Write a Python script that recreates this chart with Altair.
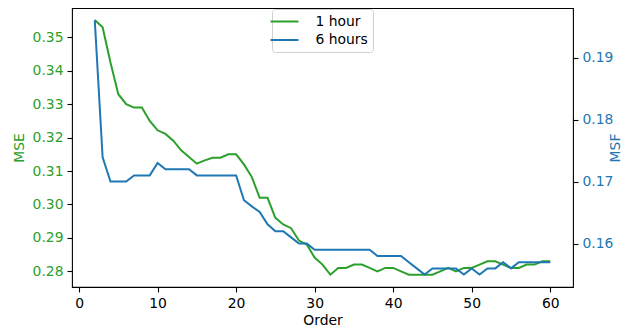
import altair as alt
import pandas as pd

order = list(range(2, 61))
mse_1h = [0.3552, 0.353, 0.3425, 0.333, 0.330, 0.329, 0.329, 0.325, 0.3222, 0.3211,
          0.3191, 0.3162, 0.3142, 0.3122, 0.3132, 0.314, 0.314, 0.315, 0.315, 0.312,
          0.3082, 0.302, 0.302, 0.296, 0.294, 0.2929, 0.2892, 0.288, 0.2841, 0.282,
          0.279, 0.281, 0.281, 0.282, 0.282, 0.281, 0.280, 0.281, 0.281, 0.280,
          0.279, 0.279, 0.279, 0.279, 0.280, 0.281, 0.280, 0.281, 0.281, 0.282,
          0.283, 0.283, 0.282, 0.281, 0.281, 0.282, 0.282, 0.283, 0.283]
msf_6h = [0.196, 0.1739, 0.170, 0.170, 0.170, 0.171, 0.171, 0.171, 0.173, 0.172,
          0.172, 0.172, 0.172, 0.171, 0.171, 0.171, 0.171, 0.171, 0.171, 0.167,
          0.166, 0.1651, 0.1631, 0.162, 0.162, 0.161, 0.160, 0.160, 0.159, 0.159,
          0.159, 0.159, 0.159, 0.159, 0.159, 0.159, 0.158, 0.158, 0.158, 0.158,
          0.157, 0.156, 0.155, 0.156, 0.156, 0.156, 0.156, 0.155, 0.156, 0.155,
          0.156, 0.156, 0.157, 0.156, 0.157, 0.157, 0.157, 0.157, 0.157]
series = ["1 hour", "6 hours"]
colors = ["#2ca02c", "#1f77b4"]
x_ticks = [0, 10, 20, 30, 40, 50, 60]
mse_ticks = [0.28, 0.29, 0.30, 0.31, 0.32, 0.33, 0.34, 0.35]
msf_ticks = [0.16, 0.17, 0.18, 0.19]

df1 = pd.DataFrame({"Order": order, "MSE": mse_1h, "series": series[0]})
df2 = pd.DataFrame({"Order": order, "MSF": msf_6h, "series": series[1]})

FONT = "DejaVu Sans"
FS = 13.9
W, H = 501, 279

xenc = alt.X("Order:Q", scale=alt.Scale(domain=[-0.9, 62.9], nice=False, zero=False),
             axis=alt.Axis(values=x_ticks, title="Order", format="d"))
cenc = alt.Color("series:N", scale=alt.Scale(domain=series, range=colors),
                 legend=alt.Legend(title=None, orient="none", legendX=200, legendY=1,
                                   symbolType="M-2,0H2", symbolSize=196, symbolStrokeWidth=2,
                                   labelFont=FONT, labelFontSize=FS, labelOffset=23,
                                   labelColor="black",
                                   padding=4.5, rowPadding=3.5, strokeColor="#d0d0d0",
                                   fillColor="white", cornerRadius=3))

l1 = alt.Chart(df1).mark_line(strokeWidth=2).encode(
    x=xenc,
    y=alt.Y("MSE:Q", scale=alt.Scale(domain=[0.2753, 0.3588], nice=False, zero=False),
            axis=alt.Axis(values=mse_ticks, format=".2f", title="MSE", orient="left",
                          labelColor=colors[0], titleColor=colors[0], titlePadding=6)),
    color=cenc,
)
l2 = alt.Chart(df2).mark_line(strokeWidth=2).encode(
    x=xenc,
    y=alt.Y("MSF:Q", scale=alt.Scale(domain=[0.1530, 0.1980], nice=False, zero=False),
            axis=alt.Axis(values=msf_ticks, format=".2f", title="MSF", orient="right",
                          labelColor=colors[1], titleColor=colors[1],
                          titleAngle=270, titleBaseline="top", titleX=35, titleY=H / 2)),
    color=cenc,
)

chart = alt.layer(l1, l2).resolve_scale(y="independent").properties(
    width=W, height=H,
    autosize=alt.AutoSizeParams(type="none"),
    padding={"left": 64, "top": 0, "right": 48, "bottom": 46},
).configure_view(stroke="black", strokeWidth=1.1).configure_axis(
    grid=False, domain=False, ticks=True, tickSize=5, tickWidth=1.1, tickColor="black",
    labelFont=FONT, labelFontSize=FS, titleFont=FONT, titleFontSize=FS,
    titleFontWeight="normal", labelPadding=4, labelColor="black", titleColor="black",
)

chart.save("out.html", embed_options={"renderer": "svg", "actions": False})
